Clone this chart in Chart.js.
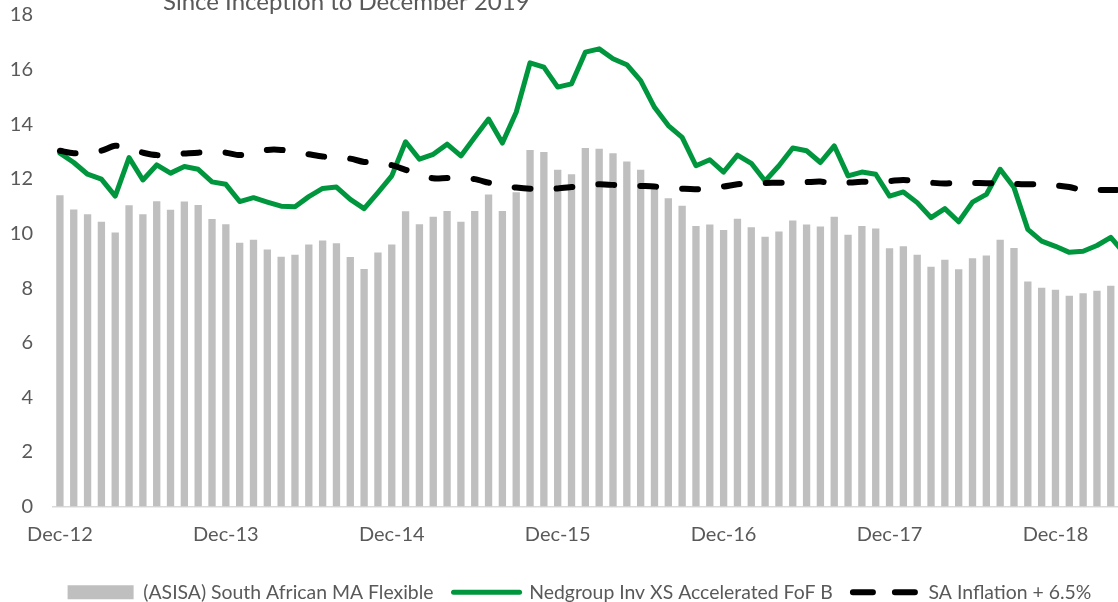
<!DOCTYPE html>
<html>
<head>
<meta charset="utf-8">
<script src="https://cdn.jsdelivr.net/npm/chart.js@4/dist/chart.umd.min.js"></script>
<style>
  body { margin: 0; background: #fff; overflow: hidden; width: 1118px; height: 602px; }
</style>
</head>
<body>
<!-- canvas is a bit wider than the window: the original picture is cropped on the right -->
<canvas id="myChart" width="1173" height="602"></canvas>
<script>
const months = [
  'Dec-12',
  'Jan-13','Feb-13','Mar-13','Apr-13','May-13','Jun-13','Jul-13','Aug-13','Sep-13','Oct-13','Nov-13','Dec-13',
  'Jan-14','Feb-14','Mar-14','Apr-14','May-14','Jun-14','Jul-14','Aug-14','Sep-14','Oct-14','Nov-14','Dec-14',
  'Jan-15','Feb-15','Mar-15','Apr-15','May-15','Jun-15','Jul-15','Aug-15','Sep-15','Oct-15','Nov-15','Dec-15',
  'Jan-16','Feb-16','Mar-16','Apr-16','May-16','Jun-16','Jul-16','Aug-16','Sep-16','Oct-16','Nov-16','Dec-16',
  'Jan-17','Feb-17','Mar-17','Apr-17','May-17','Jun-17','Jul-17','Aug-17','Sep-17','Oct-17','Nov-17','Dec-17',
  'Jan-18','Feb-18','Mar-18','Apr-18','May-18','Jun-18','Jul-18','Aug-18','Sep-18','Oct-18','Nov-18','Dec-18',
  'Jan-19','Feb-19','Mar-19','Apr-19','May-19','Jun-19','Jul-19','Aug-19'
];

// (ASISA) South African MA Flexible
const sectorValues = [
  11.40, 10.88, 10.70, 10.43, 10.04, 11.03, 10.70, 11.18, 10.87, 11.17, 11.04, 10.53, 10.34,
  9.66, 9.77, 9.41, 9.15, 9.22, 9.60, 9.74, 9.64, 9.14, 8.70, 9.30, 9.60,
  10.81, 10.34, 10.61, 10.82, 10.43, 10.82, 11.43, 10.82, 11.51, 13.06, 12.98, 12.33,
  12.17, 13.13, 13.10, 12.94, 12.64, 12.33, 11.74, 11.29, 11.02, 10.27, 10.33, 10.13,
  10.54, 10.23, 9.88, 10.07, 10.48, 10.33, 10.26, 10.61, 9.95, 10.27, 10.18, 9.46,
  9.53, 9.22, 8.78, 9.04, 8.69, 9.09, 9.19, 9.77, 9.47, 8.24, 8.01, 7.94,
  7.72, 7.81, 7.90, 8.09, null, null, null, null
];

// Nedgroup Inv XS Accelerated FoF B
const fundValues = [
  12.94, 12.60, 12.17, 11.99, 11.37, 12.78, 11.96, 12.51, 12.21, 12.45, 12.35, 11.89, 11.80,
  11.17, 11.31, 11.15, 11.00, 10.98, 11.35, 11.65, 11.70, 11.25, 10.91, 11.50, 12.11,
  13.36, 12.72, 12.90, 13.27, 12.84, 13.52, 14.19, 13.31, 14.44, 16.25, 16.09, 15.36,
  15.48, 16.64, 16.76, 16.40, 16.18, 15.60, 14.62, 13.95, 13.52, 12.48, 12.70, 12.25,
  12.87, 12.57, 11.92, 12.48, 13.13, 13.03, 12.60, 13.21, 12.11, 12.25, 12.17, 11.37,
  11.52, 11.13, 10.58, 10.91, 10.43, 11.15, 11.43, 12.35, 11.68, 10.15, 9.72, 9.53,
  9.31, 9.35, 9.56, 9.86, 9.26, null, null, null
];

// SA Inflation + 6.5%
const inflationValues = [
  13.03, 12.94, 12.98, 13.03, 13.21, 13.10, 12.96, 12.87, 12.90, 12.93, 12.96, 12.96, 12.96,
  12.87, 12.96, 13.06, 13.06, 12.98, 12.90, 12.82, 12.78, 12.74, 12.62, 12.60, 12.50,
  12.33, 12.17, 12.02, 12.03, 12.02, 11.99, 11.86, 11.75, 11.68, 11.64, 11.64, 11.65,
  11.70, 11.75, 11.80, 11.78, 11.76, 11.74, 11.72, 11.68, 11.64, 11.62, 11.67, 11.72,
  11.80, 11.84, 11.85, 11.86, 11.86, 11.88, 11.90, 11.83, 11.86, 11.89, 11.89, 11.92,
  11.96, 11.91, 11.86, 11.83, 11.86, 11.85, 11.84, 11.84, 11.82, 11.80, 11.80, 11.76,
  11.70, 11.59, 11.59, 11.59, 11.59, null, null, null
];

const yTicks = [0, 2, 4, 6, 8, 10, 12, 14, 16, 18];
const seriesNames = ['(ASISA) South African MA Flexible', 'Nedgroup Inv XS Accelerated FoF B', 'SA Inflation + 6.5%'];
const subTitle = 'Since Inception to December 2019';

const textColor = '#595959';
const fontFamily = 'Lato, "Open Sans", sans-serif';

// the title sits half outside the picture, as in the cropped original
const titlePlugin = {
  id: 'cutTitle',
  afterDraw(chart) {
    const ctx = chart.ctx;
    ctx.save();
    ctx.font = '24px ' + fontFamily;
    ctx.fillStyle = textColor;
    ctx.textBaseline = 'alphabetic';
    ctx.fillText(subTitle, 163, 9.5);
    ctx.restore();
  }
};

const renderChart = () => {
  const ctx = document.getElementById('myChart').getContext('2d');
  new Chart(ctx, {
    type: 'bar',
    data: {
      labels: months,
      datasets: [{
        label: seriesNames[0],
        data: sectorValues,
        backgroundColor: '#BFBFBF',
        borderWidth: 0,
        barPercentage: 0.53,
        categoryPercentage: 1,
        order: 3
      }, {
        type: 'line',
        label: seriesNames[1],
        data: fundValues,
        borderColor: '#00963D',
        backgroundColor: '#00963D',
        borderWidth: 5,
        pointRadius: 0,
        tension: 0,
        borderJoinStyle: 'round',
        borderCapStyle: 'round',
        order: 2
      }, {
        type: 'line',
        label: seriesNames[2],
        data: inflationValues,
        borderColor: '#000000',
        backgroundColor: '#000000',
        borderWidth: 6,
        borderDash: [16, 26],
        borderCapStyle: 'round',
        pointRadius: 0,
        tension: 0.3,
        order: 1
      }]
    },
    options: {
      responsive: false,
      animation: false,
      layout: { padding: { top: 15, left: -14, right: 0, bottom: -10 } },
      plugins: {
        tooltip: { enabled: false },
        legend: {
          position: 'bottom',
          labels: {
            color: textColor,
            font: { family: fontFamily, size: 19.4 },
            usePointStyle: true,
            pointStyleWidth: 66,
            boxHeight: 14,
            padding: 20,
            generateLabels: (chart) => chart.data.datasets.map((ds, i) => ({
              text: ds.label,
              datasetIndex: i,
              fillStyle: ds.type === 'line' ? 'rgba(0,0,0,0)' : ds.backgroundColor,
              strokeStyle: ds.borderColor || ds.backgroundColor,
              lineWidth: ds.type === 'line' ? ds.borderWidth : 0,
              lineDash: ds.type === 'line' && ds.borderDash ? [20, 22] : [],
              lineCap: 'round',
              pointStyle: ds.type === 'line' ? 'line' : 'rect',
              fontColor: textColor,
              hidden: false
            }))
          }
        }
      },
      scales: {
        x: {
          afterFit: (axis) => { axis.height = 56; },
          grid: { display: false, drawTicks: true, tickLength: 16 },
          border: { display: true, color: '#D9D9D9', width: 1.5 },
          ticks: {
            color: textColor,
            font: { family: fontFamily, size: 20 },
            autoSkip: false,
            maxRotation: 0,
            padding: 0,
            callback: function (value) {
              const lab = this.getLabelForValue(value);
              return lab.startsWith('Dec') ? lab : '';
            }
          }
        },
        y: {
          min: 0,
          max: 18,
          afterBuildTicks: (axis) => { axis.ticks = yTicks.map(v => ({ value: v })); },
          afterFit: (axis) => { axis.width = 67; },
          grid: { display: false, drawTicks: true, tickLength: 20 },
          border: { display: false },
          ticks: {
            color: textColor,
            font: { family: fontFamily, size: 20 },
            padding: 0
          }
        }
      }
    },
    plugins: [titlePlugin]
  });
};

renderChart();
</script>
</body>
</html>
